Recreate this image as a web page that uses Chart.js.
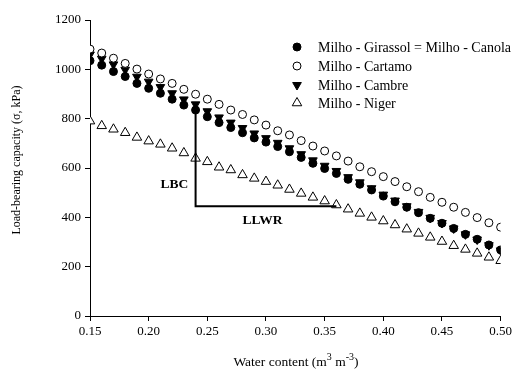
<!DOCTYPE html>
<html><head><meta charset="utf-8">
<script src="https://cdn.jsdelivr.net/npm/chart.js@4.4.0/dist/chart.umd.min.js"></script>
<style>html,body{margin:0;padding:0;background:#fff;}</style>
</head><body>
<canvas id="c" width="515" height="373"></canvas>
<script>
// ---- data ----
const waterContent = [0.15,0.16,0.17,0.18,0.19,0.20,0.21,0.22,0.23,0.24,0.25,0.26,0.27,0.28,0.29,0.30,0.31,0.32,0.33,0.34,0.35,0.36,0.37,0.38,0.39,0.40,0.41,0.42,0.43,0.44,0.45,0.46,0.47,0.48,0.49,0.50];
const girassolCanola = [1035,1017,991,971,943,923,903,879,855,835,808,784,764,743,722,705,687,666,643,619,598,578,554,534,511,486,463,441,419,396,376,355,331,311,288,268];
const cartamo = [1082,1066,1045,1024,1001,981,961,943,919,899,879,858,835,817,795,774,751,734,711,689,669,649,628,605,585,565,545,524,504,481,461,441,420,399,378,360];
const cambre = [1060,1043,1020,998,970,950,928,903,878,858,830,805,784,762,740,721,702,680,656,631,609,588,563,542,518,492,468,445,422,398,377,355,331,310,287,266];
const niger = [790,771,757,743,724,709,696,680,661,639,625,603,592,572,558,545,530,513,497,481,466,450,433,416,400,385,369,352,335,319,302,285,270,254,238,224];
const seriesNames = ['Milho - Girassol = Milho - Canola','Milho - Cartamo','Milho - Cambre','Milho - Niger'];
const xTicks = [0.15,0.20,0.25,0.30,0.35,0.40,0.45,0.50];
const yTicks = [0,200,400,600,800,1000,1200];
// annotation (data units)
const lbcX = 0.24, lbcTop = 862, llwrY = 445, llwrEndX = 0.36;
const lbcLabelPos = [0.222, 535], llwrLabelPos = [0.297, 389];

const FONT = '"Liberation Serif", "Times New Roman", serif';
const pts = arr => arr.map((v,i)=>({x:waterContent[i], y:v}));

const styles = [
  {pointStyle:'circle', radius:4, rotation:0, bg:'#000', border:'#000'},
  {pointStyle:'circle', radius:4, rotation:0, bg:'#fff', border:'#000'},
  {pointStyle:'triangle', radius:5, rotation:180, bg:'#000', border:'#000'},
  {pointStyle:'triangle', radius:5.5, rotation:0, bg:'#fff', border:'#000'}
];
const seriesData = [girassolCanola, cartamo, cambre, niger];

function drawMarker(ctx, s, x, y){
  ctx.save();
  ctx.beginPath();
  if (s.pointStyle==='circle'){
    ctx.arc(x,y,s.radius,0,Math.PI*2);
  } else {
    let rad = s.rotation*Math.PI/180;
    ctx.moveTo(x+Math.sin(rad)*s.radius, y-Math.cos(rad)*s.radius);
    rad += 2*Math.PI/3;
    ctx.lineTo(x+Math.sin(rad)*s.radius, y-Math.cos(rad)*s.radius);
    rad += 2*Math.PI/3;
    ctx.lineTo(x+Math.sin(rad)*s.radius, y-Math.cos(rad)*s.radius);
    ctx.closePath();
  }
  ctx.fillStyle=s.bg; ctx.fill();
  ctx.lineWidth=1; ctx.strokeStyle=s.border; ctx.stroke();
  ctx.restore();
}

const extras = {
  id:'extras',
  afterDatasetsDraw(chart){
    const ctx = chart.ctx, xs = chart.scales.x, ys = chart.scales.y;
    ctx.save();
    // LBC / LLWR lines
    ctx.strokeStyle='#000'; ctx.lineWidth=2;
    ctx.beginPath();
    ctx.moveTo(xs.getPixelForValue(lbcX), ys.getPixelForValue(lbcTop));
    ctx.lineTo(xs.getPixelForValue(lbcX), ys.getPixelForValue(llwrY));
    ctx.lineTo(xs.getPixelForValue(llwrEndX), ys.getPixelForValue(llwrY));
    ctx.stroke();
    ctx.fillStyle='#000';
    ctx.font='bold 13.5px '+FONT;
    ctx.textAlign='center'; ctx.textBaseline='middle';
    ctx.fillText('LBC', xs.getPixelForValue(lbcLabelPos[0]), ys.getPixelForValue(lbcLabelPos[1]));
    ctx.fillText('LLWR', xs.getPixelForValue(llwrLabelPos[0]), ys.getPixelForValue(llwrLabelPos[1]));
    // legend
    ctx.font='14px '+FONT;
    ctx.textAlign='left';
    const rowsY=[47,66,85,103];
    seriesNames.forEach((n,i)=>{
      drawMarker(ctx, styles[i], 297, rowsY[i]);
      ctx.fillStyle='#000';
      ctx.fillText(n, 318, rowsY[i]+1);
    });
    // axis titles
    ctx.font='12px '+FONT;
    ctx.save();
    ctx.translate(17,160); ctx.rotate(-Math.PI/2);
    ctx.textAlign='center'; ctx.textBaseline='middle';
    ctx.fillText('Load-bearing capacity (\u03c3, kPa)',0,0);
    ctx.restore();
    // x title with superscripts
    const parts=[['Water content (m',0],['3',1],[' m',0],['-3',1],[')',0]];
    const sizeOf = p => p[1] ? 10 : 13.5;
    let w=0;
    parts.forEach(p=>{ctx.font=sizeOf(p)+'px '+FONT; w+=ctx.measureText(p[0]).width;});
    let x=296-w/2; const by=366;
    ctx.textAlign='left'; ctx.textBaseline='alphabetic';
    parts.forEach(p=>{ctx.font=sizeOf(p)+'px '+FONT; ctx.fillText(p[0],x,p[1]?by-6:by); x+=ctx.measureText(p[0]).width;});
    ctx.restore();
  }
};

new Chart(document.getElementById('c'), {
  type:'scatter',
  data:{datasets: seriesData.map((d,i)=>({
    label: seriesNames[i], data: pts(d),
    pointStyle: styles[i].pointStyle, pointRadius: styles[i].radius, pointRotation: styles[i].rotation,
    pointBackgroundColor: styles[i].bg, pointBorderColor: styles[i].border, pointBorderWidth:1,
    showLine:false, order: i
  }))},
  options:{
    responsive:false, animation:false, devicePixelRatio:1,
    layout:{padding:{top:20,right:13,left:0,bottom:0}},
    plugins:{legend:{display:false}, tooltip:{enabled:false}},
    scales:{
      x:{type:'linear', min:0.15, max:0.50,
        afterBuildTicks: s=>{ s.ticks = xTicks.map(v=>({value:v})); },
        afterFit: s=>{ s.height = 57; },
        ticks:{callback:v=>Number(v).toFixed(2), color:'#000', font:{family:FONT,size:13}, padding:3, maxRotation:0, autoSkip:false},
        grid:{drawOnChartArea:false, drawTicks:true, tickLength:5, color:'#000'},
        border:{display:true,color:'#000',width:1}
      },
      y:{type:'linear', min:0, max:1200,
        afterBuildTicks: s=>{ s.ticks = yTicks.map(v=>({value:v})); },
        afterFit: s=>{ s.width = 90; },
        ticks:{callback:v=>String(v), color:'#000', font:{family:FONT,size:13}, padding:4},
        grid:{drawOnChartArea:false, drawTicks:true, tickLength:5, color:'#000'},
        border:{display:true,color:'#000',width:1}
      }
    }
  },
  plugins:[extras]
});
</script>
</body></html>
